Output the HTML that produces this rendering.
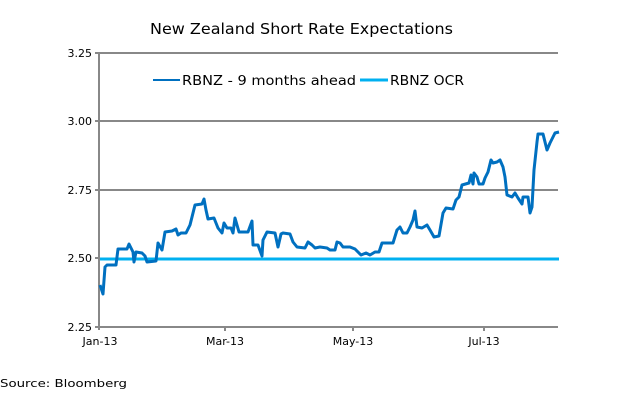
<!DOCTYPE html>
<html><head><style>body{margin:0;background:#fff}svg{display:block}text{font-family:"DejaVu Sans",Verdana,sans-serif;fill:#000}</style></head><body>
<svg width="621" height="402" viewBox="0 0 621 402">
<text x="150" y="34" font-size="15" textLength="303" lengthAdjust="spacingAndGlyphs">New Zealand Short Rate Expectations</text>
<g stroke="#888" stroke-width="2">
<line x1="95" y1="53" x2="558" y2="53"/>
<line x1="95" y1="121" x2="558" y2="121"/>
<line x1="95" y1="190" x2="558" y2="190"/>
<line x1="95" y1="258" x2="99" y2="258"/>
<line x1="95" y1="327" x2="558" y2="327"/>
<line x1="99" y1="53" x2="99" y2="330"/>
<line x1="225" y1="327" x2="225" y2="331"/>
<line x1="353" y1="327" x2="353" y2="331"/>
<line x1="484" y1="327" x2="484" y2="331"/>
</g>
<g font-size="11" text-anchor="end">
<text x="92" y="57">3.25</text><text x="92" y="125">3.00</text><text x="92" y="194">2.75</text><text x="92" y="262">2.50</text><text x="92" y="331">2.25</text>
</g>
<g font-size="11" text-anchor="middle">
<text x="100" y="345">Jan-13</text><text x="225" y="345">Mar-13</text><text x="353" y="345">May-13</text><text x="484" y="345">Jul-13</text>
</g>
<text x="0" y="387" font-size="11" textLength="127" lengthAdjust="spacingAndGlyphs">Source: Bloomberg</text>
<line x1="153" y1="80" x2="180" y2="80" stroke="#0070c0" stroke-width="2"/>
<text x="182" y="85" font-size="13" textLength="174" lengthAdjust="spacingAndGlyphs">RBNZ - 9 months ahead</text>
<line x1="360" y1="80" x2="388" y2="80" stroke="#00b0f0" stroke-width="3"/>
<text x="390" y="85" font-size="13" textLength="74" lengthAdjust="spacingAndGlyphs">RBNZ OCR</text>
<line x1="100" y1="259" x2="559" y2="259" stroke="#00b0f0" stroke-width="3"/>
<polyline fill="none" stroke="#0070c0" stroke-width="3" stroke-linejoin="round" points="100,285 103,294 105,267 107,265 116,265 118,249 127,249 129,244 133,252 134,262 136,252 142,253 145,256 147,262 156,261 158,243 162,250 165,232 172,231 176,229 178,235 181,233 186,233 190,225 195,205 202,204 204,199 206,210 208,219 214,218 218,228 222,233 224,223 227,228 231,228 233,233 235,218 239,232 248,232 252,221 253,245 258,245 262,256 263,240 267,232 275,233 278,247 281,234 283,233 290,234 293,242 297,247 305,248 308,242 312,245 315,248 320,247 327,248 330,250 335,250 337,242 340,243 343,247 350,247 355,249 361,255 366,253 370,255 375,252 379,252 382,243 388,243 393,243 397,230 400,227 403,233 407,233 410,227 413,220 415,211 417,227 422,228 427,225 430,230 434,237 439,236 443,213 446,208 453,209 456,200 459,197 462,185 469,183 471,175 473,184 474,173 477,177 479,184 483,184 485,178 488,172 491,160 493,163 497,162 500,160 503,167 505,177 507,195 512,197 515,193 518,198 522,204 523,197 528,197 530,213 532,207 534,170 537,142 538,134 543,134 547,150 550,143 555,133 559,132"/>
</svg>
</body></html>
